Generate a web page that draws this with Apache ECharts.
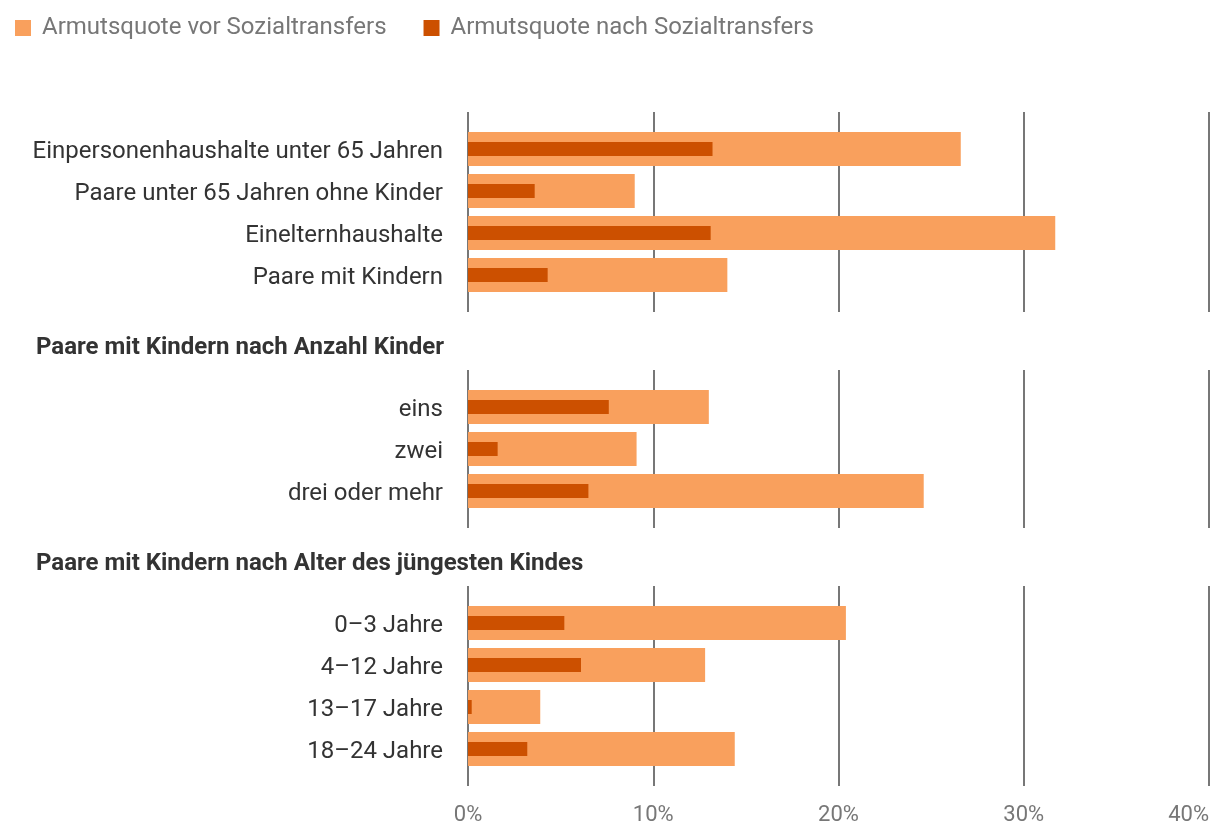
<!DOCTYPE html>
<html>
<head>
<meta charset="utf-8">
<script src="https://cdn.jsdelivr.net/npm/echarts@6/dist/echarts.min.js"></script>
<style>
html,body{margin:0;padding:0;background:#fff;}
#chart{width:1220px;height:834px;}
</style>
</head>
<body>
<div id="chart"></div>
<script>
// ---- data ----
const seriesNames = ['Armutsquote vor Sozialtransfers', 'Armutsquote nach Sozialtransfers'];

const categoriesGroup1 = ['Einpersonenhaushalte unter 65 Jahren', 'Paare unter 65 Jahren ohne Kinder', 'Einelternhaushalte', 'Paare mit Kindern'];
const vorGroup1 = [26.6, 9.0, 31.7, 14.0];
const nachGroup1 = [13.2, 3.6, 13.1, 4.3];

const headingGroup2 = 'Paare mit Kindern nach Anzahl Kinder';
const categoriesGroup2 = ['eins', 'zwei', 'drei oder mehr'];
const vorGroup2 = [13.0, 9.1, 24.6];
const nachGroup2 = [7.6, 1.6, 6.5];

const headingGroup3 = 'Paare mit Kindern nach Alter des jüngesten Kindes';
const categoriesGroup3 = ['0–3 Jahre', '4–12 Jahre', '13–17 Jahre', '18–24 Jahre'];
const vorGroup3 = [20.4, 12.8, 3.9, 14.4];
const nachGroup3 = [5.2, 6.1, 0.2, 3.2];

const xMin = 0, xMax = 40, xInterval = 10;

// ---- layout / style ----
const FONT = 'Roboto';
const colVor = '#F9A05D';
const colNach = '#CC5000';
const gridColor = '#777777';
const LEFT = 468, WIDTH = 741;

const groups = [
  { cats: categoriesGroup1, vor: vorGroup1, nach: nachGroup1, bandTop: 128 },
  { cats: categoriesGroup2, vor: vorGroup2, nach: nachGroup2, bandTop: 386 },
  { cats: categoriesGroup3, vor: vorGroup3, nach: nachGroup3, bandTop: 602 }
];
const BAND = 42, PAD = 16;

const grid = [], xAxis = [], yAxis = [], series = [];

// gridline grids (0..2)
groups.forEach((g, i) => {
  const h = g.cats.length * BAND;
  grid.push({ left: LEFT, width: WIDTH, top: g.bandTop - PAD, height: h + 2 * PAD, containLabel: false });
  xAxis.push({
    type: 'value', gridIndex: i, min: xMin, max: xMax, interval: xInterval,
    axisLine: { show: false }, axisTick: { show: false },
    splitLine: { show: true, lineStyle: { color: gridColor, width: 2 } },
    axisLabel: {
      show: i === groups.length - 1, formatter: '{value}%', margin: 18,
      fontFamily: FONT, fontSize: 22, color: '#777777', alignMaxLabel: 'right'
    }
  });
  yAxis.push({ type: 'value', gridIndex: i, min: 0, max: 1, show: false });
});

// bar grids (3..5)
groups.forEach((g, i) => {
  const gi = groups.length + i;
  const h = g.cats.length * BAND;
  grid.push({ left: LEFT, width: WIDTH, top: g.bandTop, height: h, containLabel: false });
  xAxis.push({ type: 'value', gridIndex: gi, min: xMin, max: xMax, interval: xInterval, show: false, splitLine: { show: false } });
  const yVor = yAxis.length;
  yAxis.push({
    type: 'category', gridIndex: gi, data: g.cats, inverse: true,
    axisLine: { show: false }, axisTick: { show: false }, splitLine: { show: false },
    axisLabel: {
      margin: 25, color: '#333333',
      formatter: v => '{t|' + v + '}',
      rich: { t: { fontFamily: FONT, fontSize: 24, color: '#333333', padding: [6, 0, 0, 0] } }
    }
  });
  const yNach = yAxis.length;
  yAxis.push({ type: 'category', gridIndex: gi, data: g.cats, inverse: true, show: false });
  series.push({
    name: seriesNames[0], type: 'bar', xAxisIndex: xAxis.length - 1, yAxisIndex: yVor,
    data: g.vor, barWidth: 34, itemStyle: { color: colVor }, z: 2, silent: true
  });
  series.push({
    name: seriesNames[1], type: 'bar', xAxisIndex: xAxis.length - 1, yAxisIndex: yNach,
    data: g.nach, barWidth: 14, itemStyle: { color: colNach }, z: 3, silent: true
  });
});

const option = {
  animation: false,
  backgroundColor: '#ffffff',
  legend: {
    data: seriesNames, left: 10, top: 11, icon: 'rect', itemWidth: 16, itemHeight: 16, itemGap: 37,
    selectedMode: false,
    textStyle: { fontFamily: FONT, fontSize: 24, color: '#777777', padding: [0, 0, 0, 6] }
  },
  graphic: [
    { type: 'text', left: 36, top: 336, style: { text: headingGroup2, font: 'bold 24px Roboto', fill: '#333333' } },
    { type: 'text', left: 36, top: 552, style: { text: headingGroup3, font: 'bold 24px Roboto', fill: '#333333' } }
  ],
  grid, xAxis, yAxis, series
};

const chart = echarts.init(document.getElementById('chart'), null, { renderer: 'canvas' });
chart.setOption(option);
</script>
</body>
</html>
